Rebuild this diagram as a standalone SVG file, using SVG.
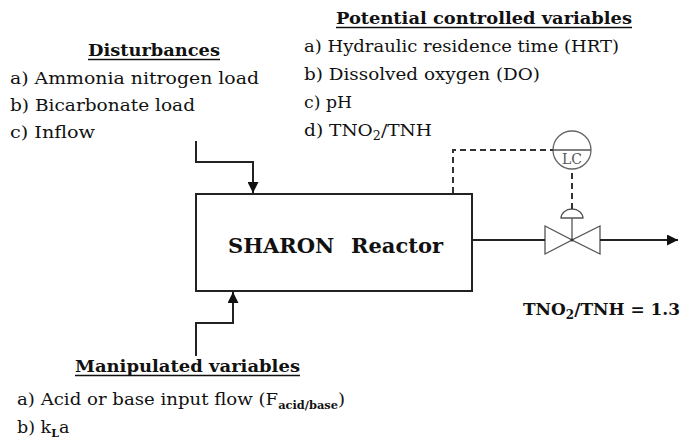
<svg xmlns="http://www.w3.org/2000/svg" width="683" height="441" viewBox="0 0 683 441">
<defs>
<style>
.t{font-family:"DejaVu Serif","Liberation Serif",serif;font-size:17.5px;fill:#111}
.h{font-family:"DejaVu Serif","Liberation Serif",serif;font-size:17px;font-weight:bold;fill:#111}
.ln{stroke:#222;stroke-width:2;fill:none}
.ul{stroke:#111;stroke-width:1.5}
.dash{stroke:#333;stroke-width:2;fill:none;stroke-dasharray:6 4}
.v{stroke:#555;stroke-width:1.3;fill:#fff}
</style>
<marker id="ah" viewBox="0 0 10 10" refX="10" refY="5" markerWidth="5.5" markerHeight="5.5" orient="auto" markerUnits="strokeWidth">
<path d="M0,0 L10,5 L0,10 Z" fill="#111"/>
</marker>
</defs>
<rect width="683" height="441" fill="#fff"/>

<g id="disturbances">
<text class="h" x="88" y="56" textLength="132" lengthAdjust="spacingAndGlyphs">Disturbances</text>
<line class="ul" x1="88" y1="59.5" x2="220" y2="59.5"/>
<text class="t" x="10" y="84" textLength="249" lengthAdjust="spacingAndGlyphs">a) Ammonia nitrogen load</text>
<text class="t" x="10" y="111" textLength="185" lengthAdjust="spacingAndGlyphs">b) Bicarbonate load</text>
<text class="t" x="10" y="138" textLength="85" lengthAdjust="spacingAndGlyphs">c) Inflow</text>
</g>

<g id="controlled">
<text class="h" x="336" y="24" textLength="296" lengthAdjust="spacingAndGlyphs">Potential controlled variables</text>
<line class="ul" x1="336" y1="27.5" x2="632" y2="27.5"/>
<text class="t" x="304" y="52" textLength="315" lengthAdjust="spacingAndGlyphs">a) Hydraulic residence time (HRT)</text>
<text class="t" x="304" y="80" textLength="236" lengthAdjust="spacingAndGlyphs">b) Dissolved oxygen (DO)</text>
<text class="t" x="304" y="108" textLength="48" lengthAdjust="spacingAndGlyphs">c) pH</text>
<text class="t" x="304" y="136" textLength="128" lengthAdjust="spacingAndGlyphs">d) TNO<tspan font-size="12" dy="4">2</tspan><tspan dy="-4">/TNH</tspan></text>
</g>

<g id="reactor">
<rect class="ln" x="196" y="194" width="276" height="97"/>
<text class="h" style="font-size:21px" y="253"><tspan x="228">SHARON</tspan><tspan x="351">Reactor</tspan></text>
</g>

<g id="manipulated">
<text class="h" x="75" y="372" textLength="225" lengthAdjust="spacingAndGlyphs">Manipulated variables</text>
<line class="ul" x1="75" y1="375.5" x2="300" y2="375.5"/>
<text class="t" x="17" y="405" textLength="328" lengthAdjust="spacingAndGlyphs">a) Acid or base input flow (F<tspan font-size="11" font-weight="bold" dy="4">acid/base</tspan><tspan dy="-4">)</tspan></text>
<text class="t" x="17" y="433">b) k<tspan font-size="11" font-weight="bold" dy="4">L</tspan><tspan dy="-4">a</tspan></text>
</g>

<g id="setpoint">
<text class="h" x="523" y="315" textLength="157" lengthAdjust="spacingAndGlyphs">TNO<tspan font-size="12" dy="4">2</tspan><tspan dy="-4">/TNH = 1.3</tspan></text>
</g>

<g id="valve">
<polygon class="v" points="545,226 545,254 572,240"/>
<polygon class="v" points="600,226 600,254 572,240"/>
<line stroke="#555" stroke-width="1.3" x1="572" y1="240" x2="572" y2="218"/>
<path class="v" d="M561,218 A11,9 0 0 1 583,218 Z"/>
<circle cx="572" cy="240" r="1.5" fill="#333"/>
</g>

<g id="lc">
<circle cx="572" cy="150" r="19" fill="#fff" stroke="#666" stroke-width="1.3"/>
<line x1="553" y1="150" x2="591" y2="150" stroke="#555" stroke-width="1.3"/>
<text x="572" y="164" text-anchor="middle" font-family="DejaVu Serif, serif" font-size="14" fill="#555">LC</text>
</g>

<g id="connectors">
<polyline class="ln" points="196,141 196,162 253,162 253,193" marker-end="url(#ah)"/>
<polyline class="ln" points="196,356 196,323 233,323 233,292" marker-end="url(#ah)"/>
<line class="ln" x1="472" y1="240" x2="545" y2="240"/>
<line class="ln" x1="600" y1="240" x2="678" y2="240" marker-end="url(#ah)"/>
<polyline class="dash" points="453,193 453,150 553,150"/>
<line class="dash" x1="572" y1="209" x2="572" y2="170"/>
</g>
</svg>
